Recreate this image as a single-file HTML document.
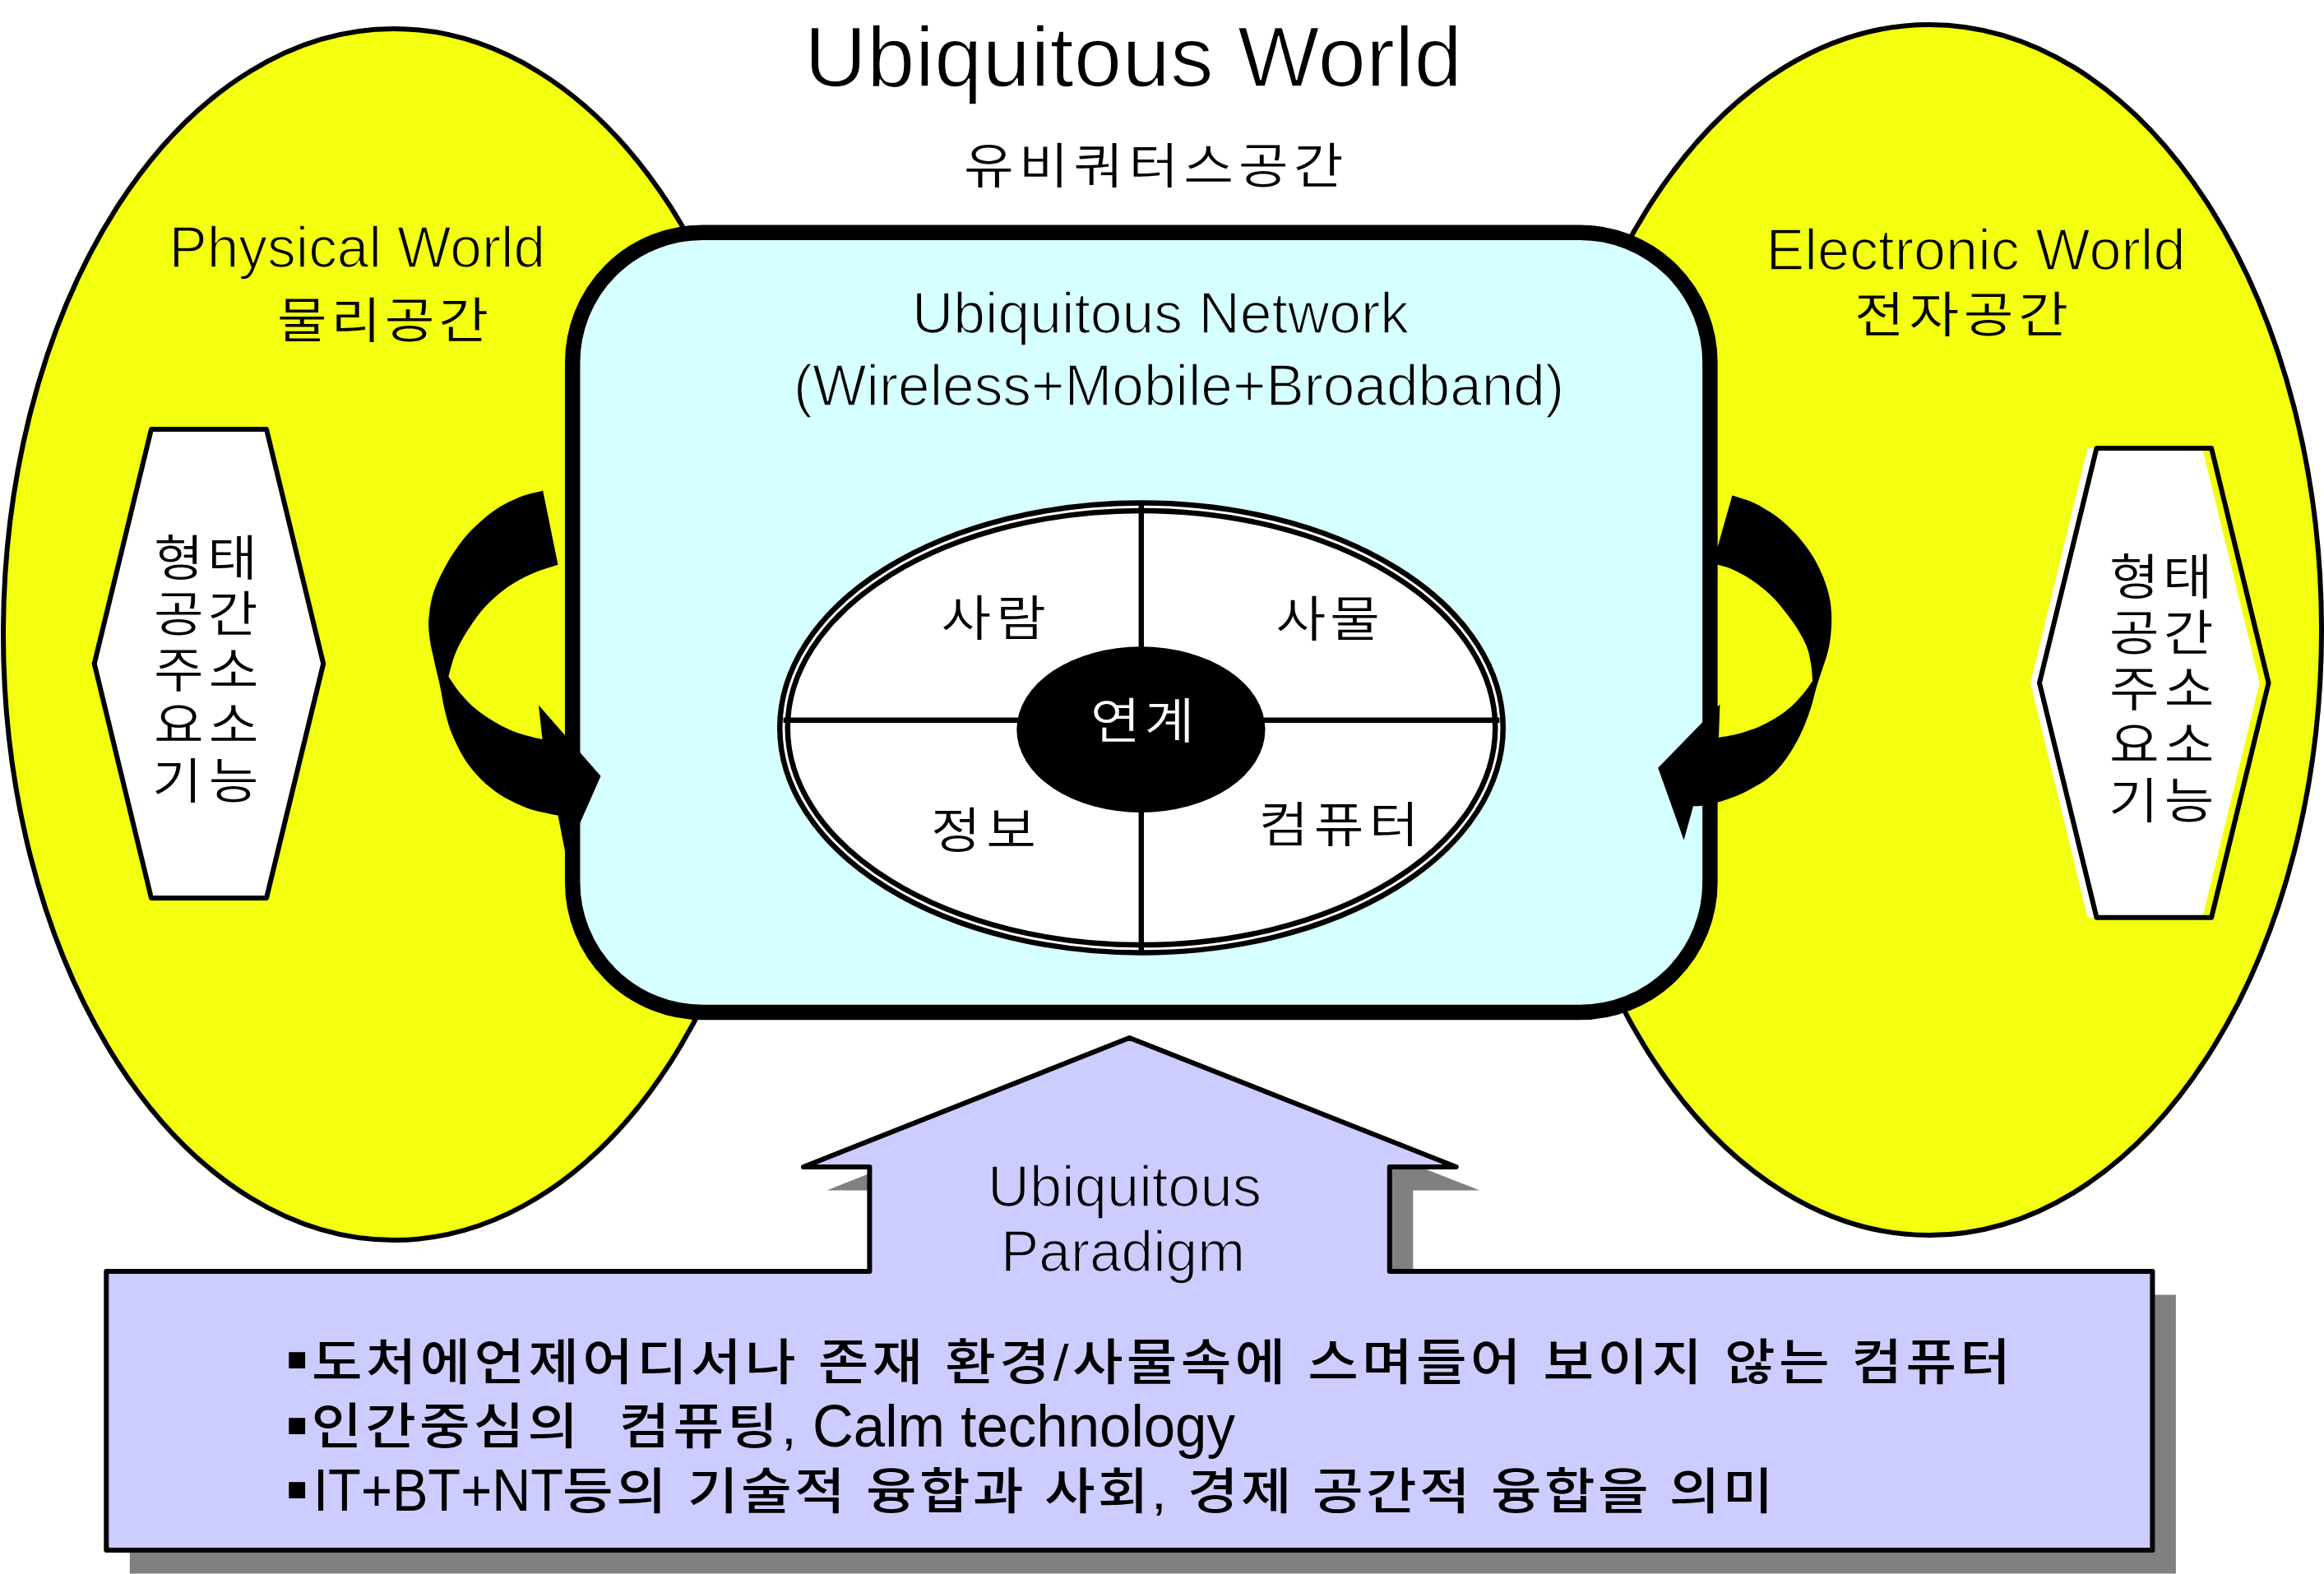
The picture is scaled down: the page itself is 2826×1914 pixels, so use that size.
<!DOCTYPE html>
<html lang="ko"><head><meta charset="utf-8"><title>Ubiquitous World</title>
<style>
html,body{margin:0;padding:0;background:#fff;}
body{width:2826px;height:1914px;overflow:hidden;}
svg{display:block;}
text{font-family:"Liberation Sans","Noto Sans CJK KR",sans-serif;white-space:pre;}
</style></head><body>
<svg width="2826" height="1914" viewBox="0 0 2826 1914">
<rect width="2826" height="1914" fill="#fff"/>
<!-- yellow worlds -->
<ellipse cx="479" cy="771.5" rx="475" ry="736.5" fill="#f3ff0f" stroke="#000" stroke-width="6"/>
<ellipse cx="2346" cy="766" rx="477" ry="736" fill="#f3ff0f" stroke="#000" stroke-width="6"/>
<!-- hexagons -->
<polygon points="184,521.9 324,521.9 393.2,807 324,1092.1 184,1092.1 114.7,807" fill="#fff" stroke="#000" stroke-width="6" stroke-linejoin="round"/>
<polygon points="2538.5,545.0 2678.1,545.0 2747.6,830.4 2678.1,1115.8 2538.5,1115.8 2469.0,830.4" fill="#fff"/>
<polygon points="2549.5,545.0 2689.1,545.0 2758.6,830.4 2689.1,1115.8 2549.5,1115.8 2480.0,830.4" fill="none" stroke="#000" stroke-width="6" stroke-linejoin="round"/>
<!-- network box -->
<rect x="696.2" y="282.7" width="1383.2" height="948.3" rx="158" ry="158" fill="#d6ffff" stroke="#000" stroke-width="18.5"/>
<!-- center ellipse -->
<ellipse cx="1388" cy="885" rx="435" ry="268.8" fill="#fff" stroke="#000" stroke-width="16"/>
<ellipse cx="1388" cy="885" rx="435" ry="268.8" fill="none" stroke="#fff" stroke-width="3"/>
<line x1="952.6" y1="875.7" x2="1823.4" y2="875.7" stroke="#000" stroke-width="6.4"/>
<line x1="1387.8" y1="610.5" x2="1387.8" y2="1159.5" stroke="#000" stroke-width="6.4"/>
<ellipse cx="1387.4" cy="887.1" rx="151.1" ry="100.9" fill="#000"/>
<!-- curved arrows -->
<path d="M660.2,596.8 C655.5,598.1 641.8,600.5 632.0,604.4 C622.2,608.3 611.7,613.3 601.5,620.4 C591.3,627.5 579.9,637.6 571.0,647.1 C562.1,656.6 554.7,667.2 548.1,677.6 C541.5,688.0 535.3,700.9 531.4,709.6 C527.5,718.3 526.2,723.6 524.6,730.0 C523.0,736.4 522.4,742.5 521.8,748.0 C521.2,753.5 520.9,757.2 521.2,763.0 C521.5,768.8 522.5,776.8 523.5,783.0 C524.5,789.2 526.2,795.2 527.3,800.0 C528.3,804.8 528.5,806.3 529.8,811.8 C531.0,817.3 532.9,824.0 534.8,833.0 C536.7,842.0 538.9,856.2 541.4,866.1 C543.9,876.0 545.8,883.1 549.6,892.5 C553.5,901.9 558.7,913.1 564.5,922.2 C570.3,931.3 576.9,939.5 584.3,947.0 C591.7,954.5 600.0,961.1 609.1,966.9 C618.2,972.7 630.6,978.3 638.9,981.7 C647.2,985.1 652.1,985.9 658.7,987.5 C665.3,989.1 675.2,990.9 678.5,991.6 L688.0,1040.0 L730.5,943.7 L655.0,857.5 L659.5,899.1 C654.4,897.7 638.4,894.3 628.9,890.9 C619.4,887.5 610.8,883.2 602.5,878.5 C594.2,873.8 586.5,868.7 579.4,862.8 C572.2,856.9 565.2,849.6 559.6,843.0 C554.0,836.4 547.9,826.4 545.5,823.1 C545.7,822.2 545.1,822.8 546.6,817.9 C548.1,813.0 550.6,801.9 554.2,793.5 C557.8,785.1 562.1,776.8 568.0,767.6 C573.9,758.5 581.2,747.5 589.3,738.6 C597.4,729.7 607.1,721.1 616.8,714.2 C626.5,707.3 637.0,702.0 647.3,697.4 C657.6,692.8 673.3,688.5 678.5,686.7 Z" fill="#000"/>
<path d="M2106.4,602.6 C2110.3,603.9 2123.2,607.5 2130.0,610.3 C2136.8,613.1 2141.5,616.0 2147.2,619.4 C2152.9,622.8 2158.6,626.3 2164.3,630.9 C2170.0,635.5 2176.5,641.8 2181.5,646.9 C2186.5,652.0 2190.3,656.8 2194.1,661.8 C2197.9,666.8 2201.2,671.3 2204.4,676.6 C2207.6,681.9 2210.8,688.1 2213.5,693.8 C2216.2,699.5 2218.5,705.3 2220.4,711.0 C2222.3,716.7 2223.9,722.4 2225.0,728.1 C2226.1,733.8 2226.7,739.9 2227.0,745.3 C2227.3,750.6 2227.2,754.8 2227.0,760.2 C2226.8,765.7 2226.3,772.2 2225.5,778.0 C2224.7,783.8 2223.6,789.0 2222.0,795.0 C2220.4,801.0 2218.1,807.3 2215.9,814.0 C2213.7,820.7 2211.2,827.6 2209.0,835.1 C2206.8,842.6 2204.9,851.4 2202.6,859.0 C2200.2,866.6 2197.7,873.8 2194.9,880.6 C2192.1,887.4 2189.4,893.4 2186.0,899.7 C2182.6,906.1 2178.6,912.8 2174.6,918.7 C2170.6,924.6 2166.3,930.4 2161.9,935.3 C2157.5,940.2 2153.0,944.2 2147.9,948.0 C2142.8,951.8 2137.1,954.9 2131.4,958.1 C2125.7,961.3 2119.6,964.5 2113.7,967.0 C2107.8,969.5 2100.1,972.0 2095.9,973.4 C2091.7,974.8 2092.7,974.5 2088.3,975.6 C2084.0,976.7 2074.7,978.9 2069.8,979.7 C2064.9,980.5 2060.8,980.2 2059.0,980.3 L2047.6,1021.6 L2016.2,933.8 L2091.4,856.5 L2090.0,896.9 C2093.3,896.3 2103.4,894.8 2109.9,893.3 C2116.4,891.8 2122.6,889.9 2128.9,887.6 C2135.2,885.3 2141.6,882.7 2147.9,879.4 C2154.2,876.1 2161.3,871.9 2167.0,867.9 C2172.7,863.9 2177.4,859.9 2182.2,855.2 C2187.0,850.6 2191.9,844.5 2195.6,840.0 C2199.2,835.5 2202.7,830.1 2204.1,828.1 C2203.9,825.3 2203.5,817.1 2202.7,811.3 C2201.9,805.4 2200.6,798.2 2199.2,793.0 C2197.8,787.8 2196.5,784.9 2194.1,780.0 C2191.7,775.1 2188.3,769.0 2184.9,763.6 C2181.5,758.2 2177.9,753.3 2173.5,747.6 C2169.1,741.9 2163.6,734.6 2158.6,729.3 C2153.6,723.9 2148.5,719.5 2143.7,715.5 C2138.9,711.5 2134.8,708.4 2130.0,705.2 C2125.2,702.0 2120.0,699.1 2115.0,696.5 C2110.0,693.9 2104.4,691.4 2100.0,689.8 C2095.6,688.2 2091.3,687.6 2088.5,686.8 C2085.7,686.0 2083.8,685.5 2082.9,685.2 Z" fill="#000"/>
<!-- paradigm arrow box -->
<path d="M1373.4,1262 L1770.8,1419 L1689.8,1419 L1689.8,1546 L2617.4,1546 L2617.4,1885 L129.3,1885 L129.3,1546 L1057.4,1546 L1057.4,1419 L976.9,1419 Z" fill="#808080" transform="translate(28.5,28.5)"/>
<path d="M1373.4,1262 L1770.8,1419 L1689.8,1419 L1689.8,1546 L2617.4,1546 L2617.4,1885 L129.3,1885 L129.3,1546 L1057.4,1546 L1057.4,1419 L976.9,1419 Z" fill="#ccccff" stroke="#000" stroke-width="6" stroke-linejoin="round"/>
<text transform="translate(978.0 105.0)" font-size="103" font-weight="400" fill="#000" stroke="#fff" stroke-width="1.7" stroke-linejoin="round" textLength="800.0" lengthAdjust="spacingAndGlyphs">Ubiquitous World</text>
<text transform="translate(1172.0 223.0) scale(1 0.9)" font-size="66" font-weight="350" fill="#000" textLength="461.5" lengthAdjust="spacing">유비쿼터스공간</text>
<text transform="translate(205.5 325.3)" font-size="70" font-weight="400" fill="#000" stroke="#f3ff0f" stroke-width="1.7" stroke-linejoin="round" textLength="457.5" lengthAdjust="spacingAndGlyphs">Physical World</text>
<text transform="translate(337.0 411.1) scale(1 0.9)" font-size="66" font-weight="350" fill="#000" textLength="257.0" lengthAdjust="spacing">물리공간</text>
<text transform="translate(187.0 700.3) scale(1 0.9)" font-size="66" font-weight="350" fill="#000" textLength="126.0" lengthAdjust="spacing">형태</text>
<text transform="translate(187.0 767.9) scale(1 0.9)" font-size="66" font-weight="350" fill="#000" textLength="126.5" lengthAdjust="spacing">공간</text>
<text transform="translate(187.0 835.6) scale(1 0.9)" font-size="66" font-weight="350" fill="#000" textLength="127.5" lengthAdjust="spacing">주소</text>
<text transform="translate(187.0 903.2) scale(1 0.9)" font-size="66" font-weight="350" fill="#000" textLength="127.5" lengthAdjust="spacing">요소</text>
<text transform="translate(185.0 970.9) scale(1 0.9)" font-size="66" font-weight="350" fill="#000" textLength="129.5" lengthAdjust="spacing">기능</text>
<text transform="translate(1109.0 404.5)" font-size="70" font-weight="400" fill="#000" stroke="#d6ffff" stroke-width="1.7" stroke-linejoin="round" textLength="604.0" lengthAdjust="spacingAndGlyphs">Ubiquitous Network</text>
<text transform="translate(965.0 493.0)" font-size="70" font-weight="400" fill="#000" stroke="#d6ffff" stroke-width="1.7" stroke-linejoin="round" textLength="937.0" lengthAdjust="spacingAndGlyphs">(Wireless+Mobile+Broadband)</text>
<text transform="translate(1144.5 773.3) scale(1 0.9)" font-size="66" font-weight="350" fill="#000" textLength="127.5" lengthAdjust="spacing">사람</text>
<text transform="translate(1551.5 773.9) scale(1 0.9)" font-size="66" font-weight="350" fill="#000" textLength="126.5" lengthAdjust="spacing">사물</text>
<text transform="translate(1326.0 897.6) scale(1 0.9)" font-size="66" font-weight="350" fill="#fff" textLength="126.5" lengthAdjust="spacing">연계</text>
<text transform="translate(1132.0 1031.3) scale(1 0.9)" font-size="66" font-weight="350" fill="#000" textLength="128.0" lengthAdjust="spacing">정보</text>
<text transform="translate(1530.5 1024.0) scale(1 0.9)" font-size="66" font-weight="350" fill="#000" textLength="195.0" lengthAdjust="spacing">컴퓨터</text>
<text transform="translate(2147.5 327.8)" font-size="70" font-weight="400" fill="#000" stroke="#f3ff0f" stroke-width="1.7" stroke-linejoin="round" textLength="510.0" lengthAdjust="spacingAndGlyphs">Electronic World</text>
<text transform="translate(2255.0 404.1) scale(1 0.9)" font-size="66" font-weight="350" fill="#000" textLength="260.0" lengthAdjust="spacing">전자공간</text>
<text transform="translate(2565.0 722.8) scale(1 0.9)" font-size="66" font-weight="350" fill="#000" textLength="125.5" lengthAdjust="spacing">형태</text>
<text transform="translate(2565.0 790.8) scale(1 0.9)" font-size="66" font-weight="350" fill="#000" textLength="126.5" lengthAdjust="spacing">공간</text>
<text transform="translate(2565.0 858.7) scale(1 0.9)" font-size="66" font-weight="350" fill="#000" textLength="127.5" lengthAdjust="spacing">주소</text>
<text transform="translate(2565.0 926.6) scale(1 0.9)" font-size="66" font-weight="350" fill="#000" textLength="127.5" lengthAdjust="spacing">요소</text>
<text transform="translate(2564.0 994.6) scale(1 0.9)" font-size="66" font-weight="350" fill="#000" textLength="128.5" lengthAdjust="spacing">기능</text>
<text transform="translate(1201.0 1467.3)" font-size="70" font-weight="400" fill="#000" stroke="#ccccff" stroke-width="1.7" stroke-linejoin="round" textLength="333.0" lengthAdjust="spacingAndGlyphs">Ubiquitous</text>
<text transform="translate(1217.0 1545.8)" font-size="70" font-weight="400" fill="#000" stroke="#ccccff" stroke-width="1.7" stroke-linejoin="round" textLength="297.0" lengthAdjust="spacingAndGlyphs">Paradigm</text>
<text transform="translate(347.0 1679.2)" font-size="80.0" font-weight="400" fill="#000">▪</text>
<text transform="translate(379.0 1677.6) scale(1 0.9)" font-size="67" font-weight="500" fill="#000" textLength="2066.0" lengthAdjust="spacing">도처에언제어디서나 존재 환경/사물속에 스며들어 보이지 않는 컴퓨터</text>
<text transform="translate(347.0 1758.5)" font-size="80.0" font-weight="400" fill="#000">▪</text>
<text transform="translate(378.5 1756.1) scale(1 0.9)" font-size="67" font-weight="500" fill="#000" textLength="590.0" lengthAdjust="spacing">인간중심의  컴퓨팅,</text>
<text transform="translate(988.0 1758.6)" font-size="72" font-weight="400" fill="#000" textLength="514.0" lengthAdjust="spacingAndGlyphs">Calm technology</text>
<text transform="translate(347.0 1836.9)" font-size="80.0" font-weight="400" fill="#000">▪</text>
<text transform="translate(381.0 1837.0)" font-size="73" font-weight="400" fill="#000" textLength="304.0" lengthAdjust="spacingAndGlyphs">IT+BT+NT</text>
<text transform="translate(684.0 1834.6) scale(1 0.9)" font-size="67" font-weight="500" fill="#000" textLength="1472.5" lengthAdjust="spacing">등의 기술적 융합과 사회, 경제 공간적 융합을 의미</text>
</svg>
</body></html>
